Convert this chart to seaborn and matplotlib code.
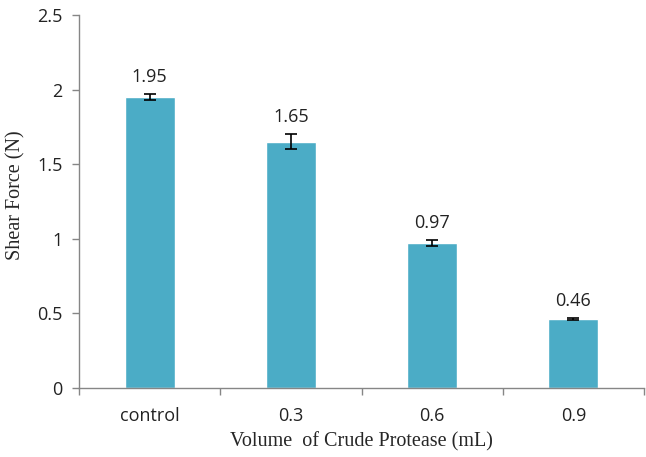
import matplotlib
matplotlib.use("Agg")
import matplotlib.pyplot as plt
import seaborn as sns
import numpy as np

categories = ["control", "0.3", "0.6", "0.9"]
shear_force = [1.95, 1.65, 0.97, 0.46]
errors = [0.02, 0.05, 0.02, 0.007]
yticks = [0, 0.5, 1, 1.5, 2, 2.5]
ytick_labels = ["0", "0.5", "1", "1.5", "2", "2.5"]

sns.set_style("white")
plt.rcParams["font.family"] = ["Open Sans", "DejaVu Sans"]

fig = plt.figure(figsize=(6.46, 4.57), dpi=100)
ax = fig.add_axes([0.1223, 0.151, 0.8746, 0.816])

sns.barplot(x=categories, y=shear_force, color="#4BACC6", saturation=1,
            width=0.355, ax=ax)
ax.errorbar(np.arange(len(categories)), shear_force, yerr=errors, fmt="none",
            ecolor="black", elinewidth=1.2, capsize=4.5, capthick=1.2)

for i, (v, e) in enumerate(zip(shear_force, errors)):
    ax.annotate(f"{v:.2f}", xy=(i, v + e), xytext=(0, 9),
                textcoords="offset points", ha="center", va="baseline",
                fontsize=13, color="#222222")

ax.set_xlim(-0.5, 3.5)
ax.set_ylim(0, 2.5)
ax.set_yticks(yticks)
ax.set_yticklabels(ytick_labels, fontsize=13, color="#222222")
ax.set_xticks(range(len(categories)))
ax.set_xticklabels(categories, fontsize=13, color="#222222")
ax.set_xticks(np.arange(-0.5, 3.6, 1), minor=True)
ax.tick_params(axis="x", which="major", length=0, pad=14)
ax.tick_params(axis="x", which="minor", length=5, color="#868686", width=1,
               direction="out", bottom=True)
ax.tick_params(axis="y", length=5, color="#868686", width=1, direction="out",
               left=True, pad=7)

for side in ["top", "right"]:
    ax.spines[side].set_visible(False)
for side in ["left", "bottom"]:
    ax.spines[side].set_color("#868686")
    ax.spines[side].set_linewidth(1)

ax.set_ylabel("Shear Force (N)", family="Liberation Serif", fontsize=14.5)
ax.set_xlabel("Volume  of Crude Protease (mL)", family="Liberation Serif",
              fontsize=14.5)
ax.yaxis.set_label_coords(-0.095, 0.516)
ax.xaxis.set_label_coords(0.5, -0.118)

fig.savefig("out.png", dpi=100)
